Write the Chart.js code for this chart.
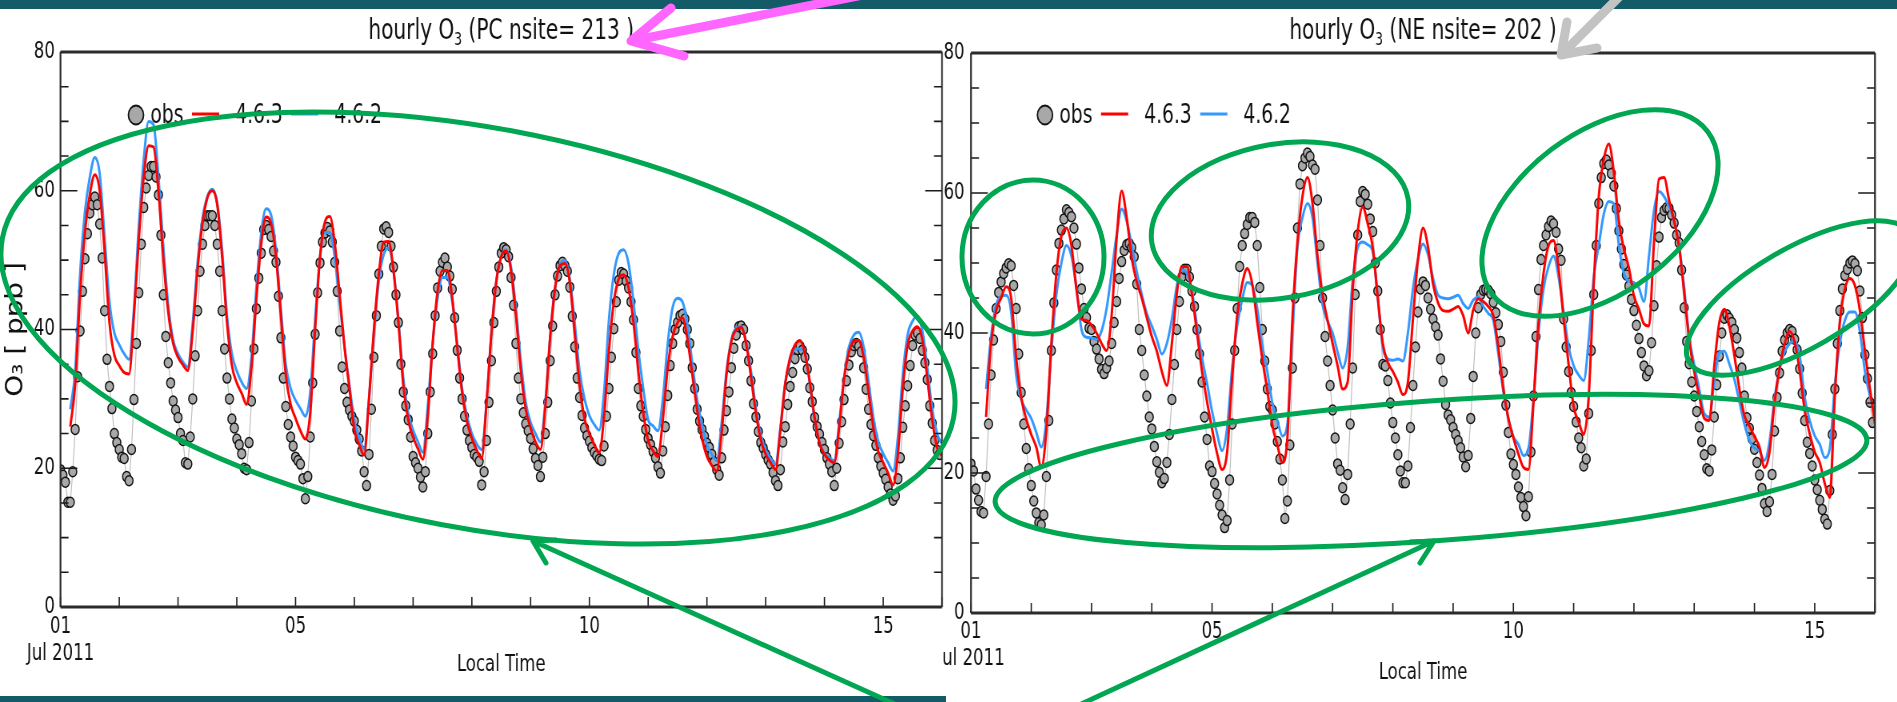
<!DOCTYPE html>
<html><head><meta charset="utf-8">
<script src="https://cdn.jsdelivr.net/npm/chart.js@4.4.1/dist/chart.umd.min.js"></script>
<style>
html,body{margin:0;padding:0;background:#fff;width:1897px;height:702px;overflow:hidden;position:relative}
.clip{position:absolute;top:0;height:702px;overflow:hidden}
.wrap{position:absolute;top:0;transform-origin:0 0;transform:scaleX(0.8)}
.bar{position:absolute;background:#145b68}
#anno{position:absolute;left:0;top:0;pointer-events:none}
</style></head>
<body>
<div class="bar" style="left:0;top:0;width:1897px;height:9px"></div>
<div class="bar" style="left:0;top:696px;width:946px;height:6px"></div>
<svg id="anno" width="1897" height="702" viewBox="0 0 1897 702" fill="none" stroke-linecap="round" stroke-linejoin="round">
  <g stroke="#00a651" stroke-width="5">
    <ellipse cx="478" cy="328" rx="484" ry="200" transform="rotate(10.7 478 328)"/>
    <ellipse cx="1033" cy="257" rx="71" ry="77"/>
    <ellipse cx="1280" cy="221" rx="130" ry="77" transform="rotate(-10 1280 221)"/>
    <ellipse cx="1600" cy="213" rx="135" ry="80" transform="rotate(-37 1600 213)"/>
    <ellipse cx="1800" cy="298" rx="128" ry="50" transform="rotate(-30 1800 298)"/>
    <ellipse cx="1431" cy="471" rx="437" ry="70" transform="rotate(-4.1 1431 471)"/>
    <path d="M899 706 L533 541 M533 541 L556 540 M533 541 L546 563"/>
    <path d="M1077 706 L1434 541 M1434 541 L1410 542 M1434 541 L1420 563"/>
  </g>
  <path stroke="#ff66ff" stroke-width="9" d="M868 -6 L631 41 M631 41 L671 8 M631 41 L684 56"/>
  <path stroke="#c3c3c3" stroke-width="9" d="M1622 -6 L1561 55 M1561 55 L1567 22 M1561 55 L1597 48"/>
</svg>
<script>
// ---------------- data ----------------
const hoursPerDay = 24;
const xMinHour = 0, xMaxHour = 360;
const tickDays = [1, 5, 10, 15];
const tickDayLabels = ['01', '05', '10', '15'];
const monthLabel = 'Jul 2011';
const yMin = 0, yMax = 80, yLabelStep = 20, yMinorStep = 5;
const seriesNames = ['obs', '4.6.3', '4.6.2'];
const modelStepHours = 2;

// PC region (left panel), hourly observations, Jul 1 00h .. Jul 15 23h
const pcObs = [
19.8,19,18,15.1,15.1,19.5,25.6,33.2,39.8,45.5,50.2,53.8,56.8,58,59.1,58,55.2,50.3,42.7,35.7,31.8,28.6,25,23.7,
22.7,21.6,21.4,18.8,18.2,22.7,29.9,38,45.3,52.3,57.6,60.4,62.2,63.5,63.5,62,59.4,53.6,45,39,35.2,32.3,29.7,28.4,
27.3,25,24,20.8,20.6,24.5,30,36.2,42.7,48.4,52.3,55,56.4,56.4,56.4,55,52.3,48.4,42.7,37.2,33,30,27.1,25.8,
24.2,23.4,22.1,20,19.8,23.7,29.7,37.2,43,47.4,51,54.4,55,54.4,53.4,51.3,49.7,44.8,38.8,33,28.9,26.3,24.5,23.2,
21.6,21.1,20.6,18.5,15.6,18.8,24.5,32.3,39.3,45.3,49.6,52.6,53.9,54.7,54.2,52.6,49.7,45.5,39.8,34.6,31.5,29.5,28.4,27.5,
26.8,25.5,24.2,22.5,19.5,17.5,22,28.5,36,42,48,52,54.5,54.8,54,52,49,45,41,35,31,29,27,24.5,
21.7,20.8,20,18.7,17.3,19.5,25,31,36.5,42,46,48.4,49.7,50.3,49,47.7,45.8,41.7,37,33,30,27.5,25.5,24,
23,22,21.6,21,17.6,19.5,24,29.5,35.5,41,45.5,49,51,51.8,51.5,50.5,47.5,43.5,38,33,30,28,26.4,25.4,
24.3,22.8,21.4,20.4,18.8,21.6,25,29.5,35.5,40.5,45,47.7,49.2,49.7,49.2,48.4,46.1,41.9,37.5,33,30.2,27.6,25.8,24.7,
23.9,23,22.3,21.8,21.3,21.1,23.2,27.5,31.5,36,40.1,44,47.1,48.2,48,47,46,44,41.4,36.7,31.5,29,27.5,25.6,
24.3,23.4,22.4,21.5,20.2,19.3,22.5,26,30.5,34.8,38,40,41,42,42.2,41.5,40,38,34.5,31.5,28.5,26.8,25.6,24.6,
23.6,23,22,20.9,19.8,19,21.5,25.5,28.3,31,34.5,37.3,39.2,40.4,40.5,40,37.7,35.5,32.6,29.3,27.4,25.3,23.7,22.9,
22,21.2,20.6,19.4,18.2,17.5,19.8,23.8,26,29.2,31.8,33.8,35.8,37.1,37.6,37,36,34.3,31.6,29.6,27.3,26,24.9,23.7,
22.7,21.5,20.6,19.5,17.5,20,23.6,26.7,29.9,32.6,34.9,36.8,37.7,38,37.6,36.8,34.5,31.4,28.5,26.3,24.7,23.3,21.5,20.3,
19.3,18.4,17.3,16.3,15.4,16,18.5,21.5,25.9,29,31.9,34.8,37.7,39.2,39.5,38.7,37,35.2,32.8,29,26.5,24,22.6,22
];
// model 4.6.3, every 2 hours from Jul 1 00h to Jul 16 00h
const pc463 = [
null,null,26,32,45,54,59.5,62.3,60,51.3,41,36.3,
34.8,33.8,33.6,42,53,62,66.5,66.3,60,50.3,42.5,38,
36,34.9,34.1,39.8,48.7,55.3,59,60,58,50.5,41,34.8,
32.3,30.8,29.2,34.5,44.5,52.5,56.2,55.3,50.5,42,33.5,29.2,
27.2,25.4,24.2,28,40,50.5,55.5,56.3,52.5,45,37.5,31.5,
25.6,23.4,21.9,30,40,48,52.6,52.7,48.5,41,32,27,
24.5,22.8,21.3,27.5,38,45.5,48.5,48.5,44.5,37.5,31,26.8,
24.3,22.6,21.4,29.4,39.5,47,50.5,51.3,48.5,42,34,28.5,
25.8,23.8,22.7,28.8,39,46,49.2,49.5,46.8,39.5,32,27.2,
25,23.4,22.2,27.5,37,44,47.3,47.9,46,41,34,28,
24,22.5,21.7,27,34.5,39,41,41.7,38.7,33.6,28.4,24.3,
21.7,20.4,19.6,25,33.5,38.3,40,40.3,38,33.2,28,24.1,
22,20.8,19.8,25.5,32.3,36,37.8,38.4,36.6,32.5,27.3,23.6,
22,21.2,20.8,25.8,32.8,36.7,38.3,38.4,36,31,25.8,22.4,
20.8,19.3,17.6,22,31.5,37.8,39.8,40.4,38.5,33,27,23,
21.8
];
// model 4.6.2, every 2 hours
const pc462 = [
null,null,28.5,34,48,57,62,64.8,62.5,53.4,44,39.5,
37.8,36.5,35.7,43,55,64.5,70,69.5,62,52,43.5,38.5,
36.5,35.3,34.6,40.9,49.7,56,59.2,60.2,58.3,51.5,42,36.5,
34,32.4,31.5,36,46,54,57.4,56.5,51.5,43,35,31.5,
29.8,28.6,27.5,31,41.5,50.5,54,54,50.5,44,37.5,32,
26.8,24.4,22.8,30,39.5,47,50.8,51.7,48.5,41.5,33,28,
25.5,23.8,22.3,29,38,44.5,47.5,47.5,44,38,31.5,27.5,
25,23.5,22.7,29.5,39.5,47,50.5,51.5,49,43,35.5,29.5,
26.6,25,23.8,29.5,39,46,49.4,50,47.3,41,34,30,
27.6,26.3,25.5,31,41.5,48,51,51.5,49.5,44,37,31.5,
27,26.1,25.4,30,38,43.2,44.5,44,40.8,35.2,29.9,26.3,
23.4,22,21.1,26.5,34,38.5,40.2,40.4,38.2,34,28.6,24.8,
22.6,21.4,20.6,25.8,32.3,35.5,37.2,37.2,36.6,32.3,27,23.8,
22.1,21.5,21.1,26.5,33,37.5,39.2,39.6,37.5,32.5,27.3,23.8,
22.1,20.8,19.6,24.5,33.5,39.3,41.2,41.9,39.8,34.5,28.6,25,
23.5
];

// NE region (right panel)
const neObs = [
21.3,20.3,17.7,16.1,14.5,14.3,19.5,27,34,39,43.5,45.8,47.3,48.5,49.3,49.9,49.6,46.8,43.5,37,31.5,27,23.5,20.6,
18.2,16,14.3,12.9,12.6,14,19.5,27.5,37.5,44.3,49,52.8,54.7,56.3,57.6,57.2,56.6,55,52.7,49.3,46.3,43.5,42.2,40.7,
40.5,38.8,37.7,36.3,34.8,34.2,35,36,38.5,41.5,44.5,47.8,50.2,51.8,52.6,52.8,52.2,50.9,47,40.5,37.5,34,31,28,
26.3,23.8,21.6,20.1,18.6,19.2,21.5,25.5,30.5,35.5,40.5,44.5,48,49.1,49.1,48,46,43.8,40.5,37,33,28,24.8,21,
20.2,18.5,17,15.4,14,12.2,13.2,19,27,37.5,43.5,49.5,52.5,54.2,55.5,56.5,56.5,55.8,52.5,46.5,40.5,36,32,29.5,
29,27,24.5,22,19,13.5,16,24,35,45,55,61.3,63.9,65,65.7,65.2,64,63.4,59,52.5,45,39.5,36,32.5,
29,25,21.3,20.4,17.9,16.2,19.8,27,35,45.5,54,58.8,60.2,59.8,58.4,56.3,54.5,50,46,40.5,35.5,35.3,33.2,30,
27.2,25,22.6,20.3,18.6,18.6,21,26.5,32.5,38,43,46.3,47.3,46.8,45,43.4,42,40.9,39.7,36.3,33.1,29.8,28.3,27.6,
26.5,25.5,24.6,23.6,22.3,20.9,22.5,27.8,33.8,40,43.6,45.5,46.1,46.2,46.1,45.6,44.4,42.9,41.2,38.8,34.4,29.7,25.8,22.7,
21.2,19.8,18,16.5,15.2,13.9,16.6,23,31,39.5,46.2,50.5,52.5,54,55.2,56,55.6,54.4,52,50.4,42,38,34.5,31.5,
29.5,27.3,25,23.6,21,22,28.5,37.5,45.5,52.5,58.5,62.2,64.2,64.7,64,62.8,61,57.8,54.6,52,49.8,48.3,46.7,44.8,
43.2,41.1,39.2,37.2,35.3,33.9,34.6,38.6,43.9,49.6,53.7,56.5,57.5,57.9,57.8,56.9,55.7,54,52.9,49,43.6,38.8,35.6,33,
31,28.8,26.6,24.5,22.6,20.6,20.3,23.3,28,32.6,36.7,40,42.1,42.6,42.1,41.5,40.5,39.3,37.2,35,31,27.9,26.4,24.9,
23.4,21.5,19.7,17.8,15.6,14.5,15.9,19.8,26,30.8,34.3,37.4,39,40,40.5,40.2,39.1,37.6,34.9,31.4,27.5,24.4,22.8,21,
19,17.6,16.1,14.8,13.4,12.7,17.5,25.5,32,38.5,43.2,46.3,48.2,49.1,50,50.3,49.9,48.9,46,42.2,36.9,33.5,30.1,27.2
];
const ne463 = [
null,null,null,28,38.5,43.2,45,46.6,45,36.5,30.8,27.7,
25.5,23.7,20.8,26,38.5,48.5,53.8,55,52.5,46.2,42,41.8,
41.1,40,38.5,37.5,42.5,53.5,60.3,56.5,50.7,47.3,45,42.2,
39.5,37.4,34.5,32.5,38.5,45.7,49.5,49.5,45.5,40,34.6,30.2,
26.3,22.8,20.5,23,33.5,42.5,47,49.2,47,41.5,36.3,31.8,
26.8,24,21.5,25,42,53,59.5,62.2,58.5,51,45.5,41.8,
38.5,35.3,32,33,46,54.5,58,55.6,52.2,45,38.5,35.8,
34.5,33,31.2,33,42,50.5,55,52.3,47,44.3,43.2,43.1,
43.4,43.8,42.5,40,43.3,44.9,44.5,43.8,42.5,38,32,27.8,
25,22.7,20.8,20.5,30,41.5,48.5,52.5,53.2,49.2,42,35.5,
29.5,27.3,25.5,31,47,59.5,64.8,67,63,56,52,49.3,
45.3,43.4,41.3,41,53,62,62.2,59,56,52.3,45.8,39,
34.5,31,27.8,27.5,35.3,41.5,43.4,41,36.8,32,28.2,26.7,
25.2,23.7,20.8,23,30,35,38.4,40.2,38.7,34.6,29,25.6,
23,21.5,18.5,16.5,31,41.5,46.3,47.8,46.8,43.2,37.4,32,
27
];
const ne462 = [
null,null,null,32,39.5,44,45.2,45.4,43,34,30.5,29,
27.8,25.8,23.7,27.5,37.5,45.5,50,52.5,51,46.5,40.5,39.4,
39.3,39.1,40.3,43.5,48.6,54,57.7,56,52.5,48.8,45.5,42.8,
41,39.1,37,38.5,42,46.8,49,48.5,46,41,36.5,32.8,
28.8,25.6,23.2,26.5,35,41,44.8,47.2,46.8,43.5,38.2,34.5,
30,27.5,25.3,27,40,52.2,56.5,58.5,56.5,50,44,41.7,
40,37.3,35,38,47.5,52.2,53,52.6,51.6,45,38,36.3,
36.1,36.3,36,40,46.3,50.5,52.7,51.2,47.8,45.4,45,44.9,
45.1,45.4,44.2,43.5,44.7,45.1,43.8,42.8,41.8,37,31.6,27.8,
25.2,24.1,22.5,23.5,30.5,40,46.3,49.5,51,48,43,38,
35.3,34,33.2,39,48,52.5,57,58.8,58.5,52.5,48.5,47.4,
47.2,46.4,44.5,51,57.5,60.2,59.5,58,56,52.5,46.5,39.5,
35.5,32,28.5,28,33,37.2,37.4,35.6,33.4,30.2,27,24.6,
23.6,23.1,21.8,24.5,30.7,34.8,37.3,38.5,38.8,36.8,30.8,27.5,
25.3,24.1,22.2,23.5,32.5,38.5,41.8,43,43,40.2,34.5,31,
28.8
];

// ---------------- styling / layout ----------------
const H = 702;
const SQUEEZE = 0.8;
const NARROW = "'Liberation Sans Narrow','Arial Narrow','DejaVu Sans Condensed','Liberation Sans',sans-serif";
const INK = '#111';
const RED = '#ff0000', BLUE = '#3399ff', OBS_FILL = '#a8a8a8', OBS_LINE = '#bdbdbd';
Chart.defaults.color = INK;
Chart.defaults.font.family = NARROW;

const panels = [
  { clipLeft: 0, clipWidth: 948, wrapLeft: 0, cssWidth: 948, area: {left: 60.5, right: 942, top: 52, bottom: 607},
    title: ['hourly O', '3', ' (PC nsite= 213 )'], obs: pcObs, red: pc463, blue: pc462,
    yTitle: true, yLabelPad: 7, xLabelPad: 7, xTitlePadBottom: 23, legendX: 136 },
  { clipLeft: 943, clipWidth: 954, wrapLeft: 930, cssWidth: 967, area: {left: 971, right: 1875, top: 53, bottom: 613},
    title: ['hourly O', '3', ' (NE nsite= 202 )'], obs: neObs, red: ne463, blue: ne462,
    yTitle: false, yLabelPad: 8, xLabelPad: 6, xTitlePadBottom: 15, legendX: 1045 }
];

const decorPlugin = {
  id: 'decor',
  afterDraw(chart, args, o) {
    const ctx = chart.ctx, a = chart.chartArea, xs = chart.scales.x, ys = chart.scales.y;
    ctx.save();
    // inward ticks
    ctx.strokeStyle = '#1a1a1a';
    ctx.lineWidth = 1.6;
    ctx.beginPath();
    for (let v = yMin; v <= yMax; v += yMinorStep) {
      const py = ys.getPixelForValue(v);
      const len = (v % yLabelStep === 0) ? 21 : 10;
      ctx.moveTo(a.left, py); ctx.lineTo(a.left + len, py);
      ctx.moveTo(a.right, py); ctx.lineTo(a.right - len, py);
    }
    for (let h = xMinHour; h <= xMaxHour; h += hoursPerDay) {
      const px = xs.getPixelForValue(h);
      ctx.moveTo(px, a.bottom); ctx.lineTo(px, a.bottom - 10);
    }
    ctx.stroke();
    // frame
    ctx.strokeStyle = '#2b2b2b';
    ctx.lineWidth = 3;
    ctx.beginPath();
    ctx.moveTo(a.left, a.top); ctx.lineTo(a.right, a.top);
    ctx.moveTo(a.left, a.bottom); ctx.lineTo(a.right, a.bottom);
    ctx.stroke();
    ctx.lineWidth = 2.2;
    ctx.beginPath();
    ctx.moveTo(a.left, a.top); ctx.lineTo(a.left, a.bottom);
    ctx.moveTo(a.right, a.top); ctx.lineTo(a.right, a.bottom);
    ctx.stroke();
    // title with subscript
    const [t1, sub, t2] = o.title;
    const big = o.titleSize + 'px ' + NARROW, small = Math.round(o.titleSize * 0.62) + 'px ' + NARROW;
    ctx.fillStyle = INK; ctx.textAlign = 'left'; ctx.textBaseline = 'alphabetic';
    ctx.font = big; const w1 = ctx.measureText(t1).width, w3 = ctx.measureText(t2).width;
    ctx.font = small; const w2 = ctx.measureText(sub).width;
    let x = (a.left + a.right) / 2 - (w1 + w2 + w3) / 2;
    ctx.font = big; ctx.fillText(t1, x, o.titleY); x += w1;
    ctx.font = small; ctx.fillText(sub, x, o.titleY + o.titleSize * 0.2); x += w2;
    ctx.font = big; ctx.fillText(t2, x, o.titleY);
    // legend
    const ds = chart.data.datasets;
    const obsDs = ds.find(d => d.label === seriesNames[0]);
    const redDs = ds.find(d => d.label === seriesNames[1]);
    const blueDs = ds.find(d => d.label === seriesNames[2]);
    const lx = o.legendX, ly = o.legendY;
    ctx.beginPath(); ctx.arc(lx, ly, 9.5, 0, Math.PI * 2);
    ctx.fillStyle = obsDs.pointBackgroundColor; ctx.fill();
    ctx.lineWidth = 1.8; ctx.strokeStyle = INK; ctx.stroke();
    ctx.font = o.legendSize + 'px ' + NARROW; ctx.textBaseline = 'middle'; ctx.fillStyle = INK;
    ctx.fillText(obsDs.label, lx + 18, ly + 1);
    ctx.lineWidth = 3;
    ctx.strokeStyle = redDs.borderColor; ctx.beginPath(); ctx.moveTo(lx + 70, ly - 1); ctx.lineTo(lx + 104, ly - 1); ctx.stroke();
    ctx.fillText(redDs.label, lx + 124, ly + 1);
    ctx.strokeStyle = blueDs.borderColor; ctx.beginPath(); ctx.moveTo(lx + 194, ly - 1); ctx.lineTo(lx + 228, ly - 1); ctx.stroke();
    ctx.fillText(blueDs.label, lx + 248, ly + 1);
    ctx.restore();
  }
};

const svg = document.getElementById('anno');
panels.forEach(p => {
  const cw = Math.round(p.cssWidth / SQUEEZE);
  const clip = document.createElement('div');
  clip.className = 'clip';
  clip.style.left = p.clipLeft + 'px';
  clip.style.width = p.clipWidth + 'px';
  const wrap = document.createElement('div');
  wrap.className = 'wrap';
  wrap.style.left = (p.wrapLeft - p.clipLeft) + 'px';
  wrap.style.width = cw + 'px';
  wrap.style.height = H + 'px';
  const cv = document.createElement('canvas');
  cv.width = cw; cv.height = H;
  wrap.appendChild(cv);
  clip.appendChild(wrap);
  document.body.insertBefore(clip, svg);
  const aL = (p.area.left - p.wrapLeft) / SQUEEZE;
  const aR = (p.area.right - p.wrapLeft) / SQUEEZE;

  new Chart(cv, {
    type: 'line',
    data: {
      datasets: [
        { label: seriesNames[1], data: p.red.map((v, i) => ({x: i * modelStepHours, y: v})),
          borderColor: RED, borderWidth: 3, pointRadius: 0, cubicInterpolationMode: 'monotone', order: 0 },
        { label: seriesNames[2], data: p.blue.map((v, i) => ({x: i * modelStepHours, y: v})),
          borderColor: BLUE, borderWidth: 3, pointRadius: 0, cubicInterpolationMode: 'monotone', order: 1 },
        { label: seriesNames[0], data: p.obs.map((v, i) => ({x: i, y: v})),
          borderColor: OBS_LINE, borderWidth: 1.2, tension: 0,
          pointRadius: 5, pointStyle: 'circle', pointBackgroundColor: OBS_FILL,
          pointBorderColor: INK, pointBorderWidth: 1.5, order: 2 }
      ]
    },
    options: {
      responsive: false, animation: false, events: [],
      layout: { padding: { left: 0, top: p.area.top, right: cw - aR, bottom: 0 } },
      plugins: {
        legend: { display: false }, tooltip: { enabled: false }, title: { display: false },
        decor: { title: p.title, titleSize: 28, titleY: 39, legendX: (p.legendX - p.wrapLeft) / SQUEEZE, legendY: 115, legendSize: 26 }
      },
      scales: {
        x: {
          type: 'linear', min: xMinHour, max: xMaxHour,
          grid: { display: false, drawTicks: false }, border: { display: false },
          ticks: {
            stepSize: hoursPerDay, autoSkip: false, maxRotation: 0, padding: p.xLabelPad,
            font: { family: NARROW, size: 23, lineHeight: 1.15 }, color: INK,
            callback: (v) => {
              const d = Math.round(v / hoursPerDay) + 1;
              const k = tickDays.indexOf(d);
              if (k < 0) return '';
              return k === 0 ? [tickDayLabels[k], monthLabel] : tickDayLabels[k];
            }
          },
          title: { display: true, text: 'Local Time', color: INK,
                   font: { family: NARROW, size: 23, lineHeight: 1.2 }, padding: { top: 0, bottom: p.xTitlePadBottom } },
          afterFit: (s) => { s.height = H - p.area.bottom; }
        },
        y: {
          min: yMin, max: yMax,
          grid: { display: false, drawTicks: false }, border: { display: false },
          ticks: { stepSize: yLabelStep, padding: p.yLabelPad, font: { family: NARROW, size: 23 }, color: INK },
          title: { display: p.yTitle, text: 'O\u2083 [ ppb ]', color: INK,
                   font: { family: NARROW, size: 31, lineHeight: 1.2 }, padding: { top: 1, bottom: 0 } },
          afterFit: (s) => { s.width = aL; }
        }
      }
    },
    plugins: [decorPlugin]
  });
});
</script>
</body></html>
